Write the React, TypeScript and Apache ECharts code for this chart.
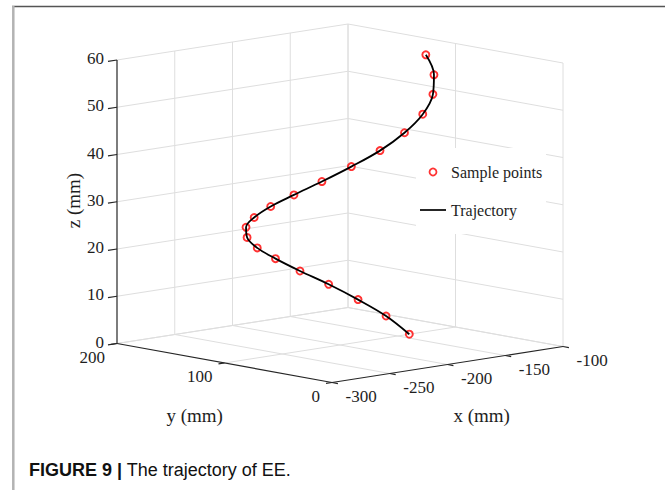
import React, { useEffect, useRef } from "react";
import * as echarts from "echarts";

// ---- data ----
const seriesNames = ["Sample points", "Trajectory"];
const xData = [-140.0, -142.9, -151.5, -164.7, -181.5, -200.0, -218.5, -235.3, -248.5, -257.1, -260.0, -257.1, -248.5, -235.3, -218.5, -200.0, -181.5, -164.7, -151.5, -142.9];
const yData = [100.0, 118.5, 135.3, 148.5, 157.1, 160.0, 157.1, 148.5, 135.3, 118.5, 100.0, 81.5, 64.7, 51.5, 42.9, 40.0, 42.9, 51.5, 64.7, 81.5];
const zData = [0.0, 3.2, 6.3, 9.5, 12.6, 15.8, 18.9, 22.1, 25.3, 28.4, 31.6, 34.7, 37.9, 41.1, 44.2, 47.4, 50.5, 53.7, 56.8, 60.0];

const xTicks = [-300, -250, -200, -150, -100];
const yTicks = [0, 100, 200];
const zTicks = [0, 10, 20, 30, 40, 50, 60];
const xTickLabels = ["-300", "-250", "-200", "-150", "-100"];
const yTickLabels = ["0", "100", "200"];
const zTickLabels = ["0", "10", "20", "30", "40", "50", "60"];
const axisTitles = ["x (mm)", "y (mm)", "z (mm)"];
const captionBold = "FIGURE 9 |";
const captionText = " The trajectory of EE.";

// ---- layout / styling ----
const X_MIN = -300, X_MAX = -100, Y_MIN = 0, Y_MAX = 200, Z_MIN = 0, Z_MAX = 60;
const SERIF = "'Liberation Serif', 'Times New Roman', serif";
const SANS = "'Liberation Sans', Arial, sans-serif";
const AXIS_COLOR = "#262626";
const TEXT_COLOR = "#1e1e1e";
const GRID_COLOR = "#dedede";

// orthographic view projection (3D data -> 2D plane units of the hidden axes)
function project(x: number, y: number, z: number): number[] {
  const dx = x - X_MIN, dy = Y_MAX - y, dz = z - Z_MIN;
  return [117 + 1.155 * dx + 1.075 * dy, 343.5 - 0.18 * dx + 0.195 * dy - 4.725 * dz];
}

type Seg = number[];

function buildGridSegments(): Seg[] {
  const s: Seg[] = [];
  // back wall y = Y_MAX
  xTicks.filter((x) => x !== X_MIN).forEach((x) => s.push([x, Y_MAX, Z_MIN, x, Y_MAX, Z_MAX]));
  zTicks.forEach((z) => s.push([X_MIN, Y_MAX, z, X_MAX, Y_MAX, z]));
  // back wall x = X_MAX
  yTicks.forEach((y) => s.push([X_MAX, y, Z_MIN, X_MAX, y, Z_MAX]));
  zTicks.forEach((z) => s.push([X_MAX, Y_MIN, z, X_MAX, Y_MAX, z]));
  // floor z = Z_MIN
  xTicks.filter((x) => x !== X_MIN).forEach((x) => s.push([x, Y_MIN, Z_MIN, x, Y_MAX, Z_MIN]));
  yTicks.filter((y) => y !== Y_MIN).forEach((y) => s.push([X_MIN, y, Z_MIN, X_MAX, y, Z_MIN]));
  return s;
}

function buildAxisSegments(): Seg[] {
  const s: Seg[] = [];
  s.push([X_MIN, Y_MAX, Z_MIN, X_MIN, Y_MAX, Z_MAX]); // z axis
  s.push([X_MIN, Y_MIN, Z_MIN, X_MIN, Y_MAX, Z_MIN]); // y axis
  s.push([X_MIN, Y_MIN, Z_MIN, X_MAX, Y_MIN, Z_MIN]); // x axis
  zTicks.forEach((z) => s.push([X_MIN, Y_MAX, z, X_MIN - 7.8, Y_MAX, z]));
  yTicks.forEach((y) => s.push([X_MIN, y, Z_MIN, X_MIN - 5.2, y, Z_MIN]));
  xTicks.forEach((x) => s.push([x, Y_MIN, Z_MIN, x, Y_MIN - 5.5, Z_MIN]));
  return s;
}

function segmentSeries(name: string, data: Seg[], color: string, width: number, z: number) {
  return {
    type: "custom",
    name,
    coordinateSystem: "cartesian2d",
    silent: true,
    z,
    data,
    renderItem: (_p: any, api: any) => {
      const a = api.coord(project(api.value(0), api.value(1), api.value(2)));
      const b = api.coord(project(api.value(3), api.value(4), api.value(5)));
      return {
        type: "line",
        shape: { x1: a[0], y1: a[1], x2: b[0], y2: b[1] },
        style: { stroke: color, lineWidth: width },
      };
    },
  };
}

function textSeries(
  name: string,
  points: number[][],
  labels: string[],
  opts: { dx: number; dy: number; align: string; size: number; rotation?: number }
) {
  return {
    type: "custom",
    name,
    coordinateSystem: "cartesian2d",
    silent: true,
    z: 6,
    data: points.map((p, i) => [p[0], p[1], p[2], i]),
    renderItem: (_p: any, api: any) => {
      const c = api.coord(project(api.value(0), api.value(1), api.value(2)));
      return {
        type: "text",
        x: c[0] + opts.dx,
        y: c[1] + opts.dy,
        rotation: opts.rotation || 0,
        style: {
          text: labels[api.value(3)],
          fill: TEXT_COLOR,
          font: opts.size + "px " + SERIF,
          align: opts.align,
          verticalAlign: "middle",
        },
      };
    },
  };
}

export default function App() {
  const ref = useRef<HTMLDivElement>(null);

  useEffect(() => {
    if (!ref.current) return;
    const chart = echarts.init(ref.current, undefined, { renderer: "svg" });

    const projected = xData.map((x, i) => project(x, yData[i], zData[i]));

    const option: any = {
      animation: false,
      backgroundColor: "#ffffff",
      grid: { left: 0, right: 0, top: 0, bottom: 0 },
      xAxis: { type: "value", min: 0, max: 665, show: false },
      yAxis: { type: "value", min: 0, max: 490, inverse: true, show: false },
      legend: {
        orient: "vertical",
        left: 416,
        top: 148,
        padding: [16, 4, 16, 4],
        backgroundColor: "#ffffff",
        itemWidth: 26,
        itemHeight: 7,
        itemGap: 22,
        selectedMode: false,
        z: 20,
        textStyle: { fontFamily: SERIF, fontSize: 16, color: TEXT_COLOR },
        data: [
          {
            name: seriesNames[0],
            icon: "circle",
            itemStyle: { color: "rgba(0,0,0,0)", borderColor: "#ff0000", borderWidth: 1.8 },
          },
          {
            name: seriesNames[1],
            icon: "path://M0,0 L26,0 L26,2 L0,2 Z",
            itemStyle: { color: AXIS_COLOR, borderWidth: 0 },
          },
        ],
      },
      graphic: [
        {
          type: "line",
          shape: { x1: 12, y1: 6.5, x2: 665, y2: 6.5 },
          style: { stroke: "#555555", lineWidth: 1.5 },
          silent: true,
        },
        {
          type: "line",
          shape: { x1: 13.3, y1: 6, x2: 13.3, y2: 490 },
          style: { stroke: "#b3b3b3", lineWidth: 2.5 },
          silent: true,
        },
        {
          type: "text",
          left: 29,
          top: 461,
          silent: true,
          style: {
            text: "{b|" + captionBold + "}" + captionText,
            font: "18px " + SANS,
            fill: "#111111",
            rich: {
              b: { font: "bold 18px " + SANS, fill: "#111111" },
            },
          },
        },
      ],
      series: [
        segmentSeries("grid", buildGridSegments(), GRID_COLOR, 1, 1),
        segmentSeries("axes", buildAxisSegments(), AXIS_COLOR, 1.2, 2),
        textSeries("zTickLabels", zTicks.map((z) => [X_MIN, Y_MAX, z]), zTickLabels, { dx: -13, dy: -1.5, align: "right", size: 17 }),
        textSeries("yTickLabels", yTicks.map((y) => [X_MIN, y, Z_MIN]), yTickLabels, { dx: -12, dy: 13.8, align: "right", size: 17 }),
        textSeries("xTickLabels", xTicks.map((x) => [x, Y_MIN, Z_MIN]), xTickLabels, { dx: 13.5, dy: 13.7, align: "left", size: 17 }),
        textSeries("xTitle", [[(X_MIN + X_MAX) / 2, Y_MIN, Z_MIN]], [axisTitles[0]], { dx: 34.2, dy: 50.5, align: "center", size: 19 }),
        textSeries("yTitle", [[X_MIN, (Y_MIN + Y_MAX) / 2, Z_MIN]], [axisTitles[1]], { dx: -29.8, dy: 52, align: "center", size: 19 }),
        textSeries("zTitle", [[X_MIN, Y_MAX, (Z_MIN + Z_MAX) / 2]], [axisTitles[2]], { dx: -43.3, dy: -1.2, align: "center", size: 19, rotation: Math.PI / 2 }),
        {
          type: "scatter",
          name: seriesNames[0],
          data: projected,
          symbol: "circle",
          symbolSize: 7,
          silent: true,
          z: 4,
          itemStyle: { color: "rgba(0,0,0,0)", borderColor: "#ff0000", borderWidth: 1.9 },
        },
        {
          type: "line",
          name: seriesNames[1],
          data: projected,
          smooth: 0.35,
          symbol: "none",
          silent: true,
          z: 5,
          itemStyle: { color: "#000000" },
          lineStyle: { color: "#000000", width: 1.8 },
        },
      ],
    };

    chart.setOption(option);
    return () => chart.dispose();
  }, []);

  return (
    <div
      ref={ref}
      style={{ position: "fixed", left: 0, top: 0, width: 665, height: 490, background: "#ffffff" }}
    />
  );
}
